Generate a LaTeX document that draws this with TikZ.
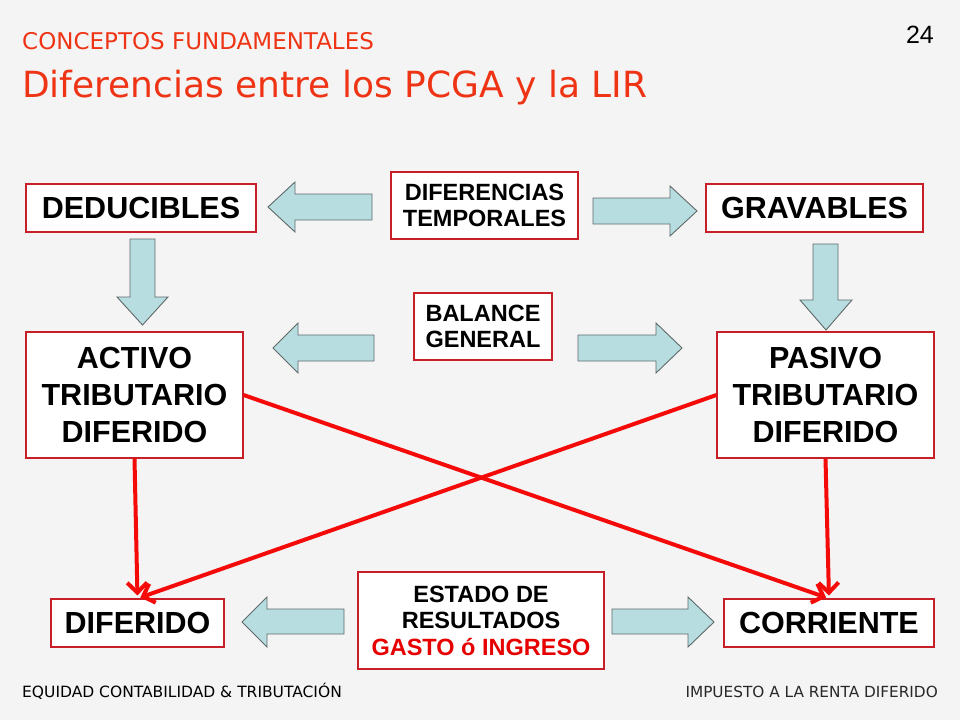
\documentclass[tikz,border=0pt]{standalone}
\usepackage{fontspec}
\setmainfont{Liberation Sans}
\newfontfamily\titlefont{DejaVu Sans}
\usetikzlibrary{arrows.meta}
\definecolor{titlered}{RGB}{238,52,20}
\definecolor{boxred}{RGB}{200,30,40}
\definecolor{arrowfill}{RGB}{183,221,224}
\definecolor{arrowedge}{RGB}{95,105,105}
\definecolor{linkred}{RGB}{245,10,10}
\definecolor{textred}{RGB}{230,0,0}
\definecolor{footgray}{RGB}{40,40,40}
\definecolor{bgcol}{RGB}{244,244,244}
\begin{document}
\begin{tikzpicture}[x=1pt,y=-1pt,
  box/.style={draw=boxred, line width=1.1pt, fill=white, inner sep=0pt, align=center},
  bigtext/.style={font=\bfseries\fontsize{30.5}{37}\selectfont},
  smalltext/.style={font=\bfseries\fontsize{23.5}{26.5}\selectfont},
  blockarrow/.style={fill=arrowfill, draw=arrowedge, line width=0.9pt, line join=miter},
  link/.style={draw=linkred, line width=4pt, -{Straight Barb[length=10pt,width=20pt,line width=4pt]}, shorten >=3pt},
  plain/.style={inner sep=0pt}
]
\useasboundingbox (0,0) rectangle (960,720);
\fill[bgcol] (0,0) rectangle (960,720);

% titles
\node[plain, anchor=base west, text=titlered, font=\titlefont\fontsize{23}{23}\selectfont] (sub) at (22,49) {CONCEPTOS FUNDAMENTALES};
\node[plain, anchor=base west, text=titlered, font=\titlefont\fontsize{36}{36}\selectfont] (title) at (22,97) {Diferencias entre los PCGA y la LIR};
\node[plain, anchor=base east, font=\fontsize{25}{25}\selectfont] (pg) at (934,43) {24};

% boxes
\node[box, bigtext, minimum width=230pt, minimum height=48pt] (ded) at (141,208) {DEDUCIBLES};
\node[box, smalltext, minimum width=187pt, minimum height=67pt] (dif) at (484.5,205.5) {DIFERENCIAS\\TEMPORALES};
\node[box, bigtext, minimum width=217pt, minimum height=48pt] (grav) at (814.5,208) {GRAVABLES};
\node[box, smalltext, minimum width=138pt, minimum height=67pt] (bal) at (483,326.5) {BALANCE\\GENERAL};
\node[box, bigtext, minimum width=217pt, minimum height=126pt] (act) at (134.5,395) {ACTIVO\\TRIBUTARIO\\DIFERIDO};
\node[box, bigtext, minimum width=217pt, minimum height=126pt] (pas) at (825.5,395) {PASIVO\\TRIBUTARIO\\DIFERIDO};
\node[box, smalltext, minimum width=246pt, minimum height=97pt] (est) at (481,620.5) {ESTADO DE\\RESULTADOS\\\textcolor{textred}{GASTO ó INGRESO}};
\node[box, bigtext, minimum width=173pt, minimum height=48pt] (dife) at (137.5,623) {DIFERIDO};
\node[box, bigtext, minimum width=210pt, minimum height=48pt] (cor) at (829,623) {CORRIENTE};

% block arrows
\draw[blockarrow] (372,194) -- (295,194) -- (295,182) -- (268,207) -- (295,232) -- (295,220) -- (372,220) -- cycle;
\draw[blockarrow] (593,198) -- (670,198) -- (670,186) -- (697,211) -- (670,236) -- (670,224) -- (593,224) -- cycle;
\draw[blockarrow] (130,239) -- (155,239) -- (155,297) -- (168,297) -- (142.5,325) -- (117,297) -- (130,297) -- cycle;
\draw[blockarrow] (813,244) -- (838,244) -- (838,300) -- (852,300) -- (826,330) -- (800,300) -- (813,300) -- cycle;
\draw[blockarrow] (374,335) -- (298,335) -- (298,323) -- (273,348) -- (298,373) -- (298,361) -- (374,361) -- cycle;
\draw[blockarrow] (578,335) -- (656,335) -- (656,323) -- (682,348) -- (656,373) -- (656,361) -- (578,361) -- cycle;
\draw[blockarrow] (344,609) -- (267,609) -- (267,597) -- (242,622) -- (267,647) -- (267,634) -- (344,634) -- cycle;
\draw[blockarrow] (612,609) -- (688,609) -- (688,597) -- (714,622) -- (688,647) -- (688,634) -- (612,634) -- cycle;

% red links
\draw[link] (act.south) -- (dife.north);
\draw[link] (act.east) -- (cor.north);
\draw[link] (pas.west) -- (dife.north);
\draw[link] (pas.south) -- (cor.north);

% footer
\node[plain, anchor=base west, font=\titlefont\fontsize{15.5}{15.5}\selectfont] (ft1) at (22,697) {EQUIDAD CONTABILIDAD \& TRIBUTACIÓN};
\node[plain, anchor=base east, text=footgray, font=\titlefont\fontsize{15.3}{15.3}\selectfont] (ft2) at (938,697) {IMPUESTO A LA RENTA DIFERIDO};
\end{tikzpicture}
\end{document}
